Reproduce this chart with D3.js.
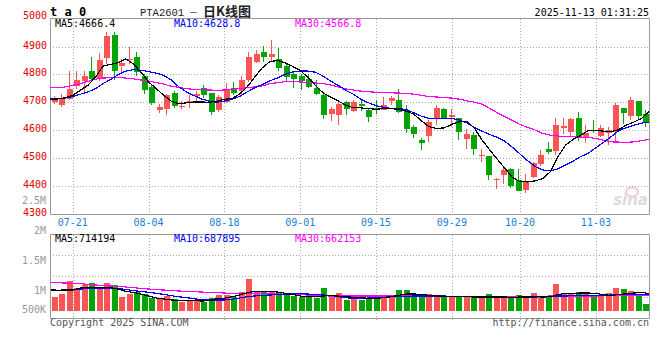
<!DOCTYPE html>
<html lang="zh">
<head>
<meta charset="UTF-8">
<title>PTA2601 日K线图</title>
<script src="https://d3js.org/d3.v7.min.js"></script>
<style>
  body { margin: 0; background: #fff; }
  svg { display: block; }
  text { font-family: "DejaVu Sans Mono", monospace; font-size: 10px; }
</style>
</head>
<body>
<svg width="660" height="360"></svg>
<script>
// trading days shown
const dates = [
  "07-16","07-17","07-18","07-21","07-22","07-23","07-24","07-25","07-28","07-29","07-30","07-31",
  "08-01","08-04","08-05","08-06","08-07","08-08","08-11","08-12","08-13","08-14","08-15","08-18",
  "08-19","08-20","08-21","08-22","08-25","08-26","08-27","08-28","08-29",
  "09-01","09-02","09-03","09-04","09-05","09-08","09-09","09-10","09-11","09-12","09-15","09-16",
  "09-17","09-18","09-19","09-22","09-23","09-24","09-25","09-26","09-29","09-30",
  "10-09","10-10","10-13","10-14","10-15","10-16","10-17","10-20","10-21","10-22","10-23","10-24",
  "10-27","10-28","10-29","10-30","10-31",
  "11-03","11-04","11-05","11-06","11-07","11-10","11-11","11-12"
];
const open = [4701,4690,4711,4758,4778,4814,4787,4858,4943,4830,4852,4864,4796,4755,4673,4676,
  4733,4683,4703,4724,4751,4732,4671,4701,4750,4739,4779,4846,4879,4862,4857,4832,
  4802,4793,4785,4752,4725,4658,4655,4700,4669,4693,4671,4680,4674,4705,4707,4671,
  4612,4564,4579,4642,4677,4648,4642,4568,4582,4506,4507,4423,4439,4459,4421,4386,
  4433,4479,4532,4526,4608,4594,4645,4576,4602,4580,4588,4594,4681,4651,4704,4659];
const high = [4721,4729,4811,4811,4811,4862,4877,4951,4953,4856,4900,4882,4801,4767,4693,4730,
  4739,4704,4727,4742,4761,4732,4727,4769,4771,4794,4882,4888,4903,4925,4894,4840,
  4814,4802,4800,4779,4731,4683,4701,4705,4707,4713,4677,4707,4719,4721,4749,4689,
  4618,4573,4636,4689,4681,4675,4645,4604,4594,4532,4507,4427,4469,4463,4459,4443,
  4487,4529,4556,4645,4645,4642,4665,4620,4636,4620,4612,4698,4681,4719,4704,4671];
const low = [4695,4683,4707,4749,4737,4776,4778,4838,4781,4808,4838,4795,4730,4690,4661,4655,
  4680,4675,4680,4696,4717,4655,4665,4698,4725,4725,4773,4840,4844,4846,4812,4773,
  4751,4743,4750,4727,4639,4633,4618,4655,4664,4669,4630,4659,4671,4689,4662,4590,
  4573,4529,4558,4620,4642,4612,4564,4532,4511,4487,4421,4389,4407,4392,4380,4374,
  4427,4471,4514,4511,4586,4579,4562,4555,4588,4574,4546,4558,4621,4638,4638,4612];
const close = [4713,4711,4746,4781,4796,4782,4850,4939,4812,4842,4857,4808,4743,4698,4682,4725,
  4686,4686,4706,4729,4726,4665,4718,4745,4732,4779,4862,4874,4862,4873,4823,4790,
  4782,4775,4755,4731,4655,4675,4693,4675,4701,4686,4648,4674,4689,4714,4665,4604,
  4586,4555,4629,4679,4642,4654,4594,4586,4532,4511,4439,4425,4457,4400,4382,4413,
  4483,4511,4520,4618,4614,4639,4570,4590,4596,4606,4602,4689,4662,4707,4650,4630];
const ma5 = [4710,4712,4716,4725,4743,4761,4790,4830,4836,4842,4856,4838,4808,4773,4749,4725,
  4704,4694,4698,4701,4701,4700,4704,4711,4713,4729,4755,4790,4824,4846,4850,4842,
  4829,4814,4790,4761,4734,4719,4705,4690,4680,4680,4677,4675,4677,4677,4675,4668,
  4657,4633,4612,4606,4608,4621,4630,4632,4606,4564,4529,4495,4463,4430,4415,4414,
  4418,4426,4451,4505,4546,4567,4582,4598,4600,4596,4594,4602,4618,4629,4642,4666];
const ma10 = [4713,4713,4715,4721,4729,4737,4749,4767,4782,4799,4812,4817,4815,4810,4805,4796,
  4780,4755,4737,4724,4712,4704,4700,4704,4711,4721,4737,4752,4764,4777,4787,4800,
  4809,4812,4812,4808,4794,4776,4761,4743,4729,4711,4698,4688,4682,4678,4677,4674,
  4662,4650,4642,4642,4642,4642,4636,4626,4609,4596,4584,4574,4560,4538,4514,4490,
  4469,4457,4454,4461,4475,4489,4505,4517,4537,4556,4576,4598,4609,4618,4625,4629];
const ma30 = [4752,4752,4755,4761,4767,4775,4783,4787,4788,4789,4787,4784,4780,4776,4771,4765,
  4758,4753,4749,4746,4745,4744,4743,4744,4746,4749,4752,4755,4759,4767,4770,4774,
  4774,4773,4771,4769,4767,4762,4755,4748,4744,4740,4738,4736,4734,4734,4733,4732,
  4729,4725,4720,4719,4717,4715,4711,4705,4700,4693,4678,4662,4648,4635,4620,4610,
  4600,4588,4582,4579,4576,4576,4575,4574,4570,4564,4558,4557,4556,4558,4562,4567];

const volume = [639000,704000,1019000,849000,922000,978000,842000,970000,922000,639000,704000,760000,
  704000,615000,590000,656000,576000,518000,559000,535000,503000,607000,680000,680000,
  624000,760000,1067000,777000,777000,784000,736000,704000,663000,624000,624000,607000,
  849000,639000,736000,559000,656000,559000,599000,583000,680000,656000,801000,801000,
  656000,639000,704000,656000,639000,639000,639000,656000,656000,639000,704000,624000,
  656000,624000,680000,624000,736000,656000,656000,953000,736000,721000,760000,704000,
  656000,656000,736000,857000,825000,777000,680000,469000];
const volMa5 = [801000,797000,801000,801000,849000,866000,857000,866000,857000,825000,768000,744000,
  704000,656000,607000,583000,559000,551000,551000,543000,535000,543000,590000,599000,
  639000,680000,736000,768000,768000,768000,752000,721000,696000,656000,639000,639000,
  656000,663000,656000,639000,624000,615000,599000,599000,615000,639000,672000,704000,
  704000,696000,672000,656000,647000,647000,639000,639000,631000,631000,631000,631000,
  631000,624000,631000,631000,639000,631000,639000,688000,721000,721000,728000,728000,
  721000,688000,672000,688000,712000,728000,744000,714194];
const volMa10 = [817000,793000,801000,801000,817000,849000,849000,849000,842000,833000,817000,784000,
  768000,744000,721000,696000,663000,639000,615000,590000,567000,559000,559000,559000,
  576000,607000,639000,656000,672000,680000,688000,696000,704000,712000,704000,688000,
  680000,672000,639000,615000,599000,599000,607000,615000,624000,639000,639000,647000,
  656000,656000,656000,656000,656000,647000,639000,639000,631000,631000,631000,624000,
  624000,624000,624000,624000,631000,639000,647000,656000,656000,663000,672000,672000,
  672000,672000,680000,696000,704000,704000,696000,687895];
const volMa30 = [986000,978000,970000,962000,954000,938000,922000,906000,898000,890000,874000,857000,
  841000,825000,809000,801000,785000,777000,769000,760000,752000,744000,736000,728000,
  720000,712000,712000,712000,712000,704000,704000,696000,696000,688000,680000,672000,
  664000,656000,656000,656000,656000,656000,656000,656000,656000,656000,656000,656000,
  656000,656000,656000,648000,648000,648000,648000,648000,648000,648000,648000,648000,
  648000,648000,648000,648000,648000,648000,656000,656000,656000,656000,656000,656000,
  656000,664000,664000,664000,664000,664000,664000,662153];

const dateTicks = ["07-21","08-04","08-18","09-01","09-15","09-29","10-20","11-03"];
const priceTicks = [4300,4400,4500,4600,4700,4800,4900,5000];
const volTicks = [2500000,2000000,1500000,1000000,500000];
const volTickText = ["2.5M","2M","1.5M","1M","500K"];

const RED = "#fa5555", GREEN = "#06a306", GRID = "#aaaaaa", FRAME = "#999999";
const L = 50, R = 649;
const svg = d3.select("svg");

const xBand = d3.scaleBand().domain(dates).range([L, R]);
const xPt = d3.scalePoint().domain(dates).range([L, R]);
const y = d3.scaleLinear().domain([4300, 5000]).range([213.7, 18.7]);
const yv = d3.scaleLinear().domain([300000, 2150000]).range([310.7, 234.3]);
const yvLabel = d3.scaleLinear().domain([0, 2500000]).range([353.7, 203.7]);
const cx = d => Math.round(xBand(d) + xBand.bandwidth() / 2) + 0.5;

// ---- price panel grid & frame
const g = svg.append("g");
g.selectAll(".hg").data(priceTicks.slice(1, -1)).join("line")
  .attr("x1", L).attr("x2", R).attr("y1", d => Math.round(y(d)) + 0.5).attr("y2", d => Math.round(y(d)) + 0.5)
  .attr("stroke", GRID).attr("stroke-dasharray", "1,2");
g.selectAll(".vg").data(dateTicks).join("line")
  .attr("x1", d => Math.round(xPt(d)) + 0.5).attr("x2", d => Math.round(xPt(d)) + 0.5)
  .attr("y1", 19).attr("y2", 214).attr("stroke", GRID).attr("stroke-dasharray", "1,2");
g.append("path").attr("d", `M${L + 0.5},${18.5}V${214.5}H${R + 0.5}V${18.5}Z`)
  .attr("fill", "none").attr("stroke", FRAME);

// price labels
g.selectAll(".pl").data(priceTicks).join("text")
  .attr("x", 47).attr("y", d => Math.min(y(d) + 2, Math.max(18.5, y(d) + 2 - (d === 5000 ? 2.2 : 0))))
  .attr("text-anchor", "end")
  .attr("fill", "#e00000").text(d => d);

// date labels
g.selectAll(".dl").data(dateTicks).join("text")
  .attr("x", d => xPt(d)).attr("y", 225.5).attr("text-anchor", "middle")
  .attr("fill", "#1a7fd4").text(d => d);

// watermark
const wm = g.append("g").attr("opacity", 0.35);
wm.append("ellipse").attr("cx", 632).attr("cy", 192).attr("rx", 6).attr("ry", 4.5)
  .attr("fill", "none").attr("stroke", "#e07070").attr("stroke-width", 2);
wm.append("text").attr("x", 648).attr("y", 205).attr("text-anchor", "end")
  .style("font-family", "DejaVu Sans").style("font-size", "15px").style("font-weight", "bold")
  .style("font-style", "italic").attr("fill", "#999").text("sina");

// ---- candles
const candles = g.append("g").selectAll("g").data(dates).join("g")
  .attr("fill", (d, i) => close[i] >= open[i] ? RED : GREEN)
  .attr("stroke", (d, i) => close[i] >= open[i] ? RED : GREEN);
candles.append("line")
  .attr("x1", cx).attr("x2", cx)
  .attr("y1", (d, i) => y(high[i])).attr("y2", (d, i) => y(low[i]))
  .attr("shape-rendering", "crispEdges");
candles.append("rect")
  .attr("x", d => Math.round(xBand(d) + xBand.bandwidth() / 2) - 2.5)
  .attr("width", 6)
  .attr("y", (d, i) => y(Math.max(open[i], close[i])))
  .attr("height", (d, i) => Math.max(1, Math.abs(y(open[i]) - y(close[i]))))
  .attr("stroke", "none").attr("shape-rendering", "crispEdges");

// MA lines
const priceLine = arr => d3.line().x((d, i) => xPt(dates[i])).y(d => y(d))(arr);
[[ma30, "#ff00ff"], [ma10, "#0000ff"], [ma5, "#000000"]].forEach(([arr, c]) => {
  g.append("path").attr("d", priceLine(arr)).attr("fill", "none")
    .attr("stroke", c).attr("stroke-width", 1.2).attr("shape-rendering", "crispEdges");
});

// legends
const leg = (gg, yy, items) => items.forEach(([t, c, x]) =>
  gg.append("text").attr("x", x).attr("y", yy).attr("fill", c).text(t));
leg(g, 27, [["MA5:4666.4", "#000", 55], ["MA10:4628.8", "#0000ff", 174], ["MA30:4566.8", "#ff00ff", 295]]);

// header
svg.append("text").attr("x", 50).attr("y", 15.5)
  .style("font-size", "12px").style("font-weight", "bold").text("t a 0");
const title = svg.append("text").attr("y", 15.5).attr("fill", "#222");
title.append("tspan").attr("x", 140).style("font-family", "Liberation Mono").style("font-size", "10.5px").text("PTA2601");
title.append("tspan").attr("x", 189).style("font-family", "Noto Sans CJK SC").style("font-size", "9px").text("－");
title.append("tspan").attr("x", 203).style("font-family", "Noto Sans CJK SC").style("font-size", "13px")
  .style("font-weight", "bold").text("日K线图");
svg.append("text").attr("x", 649).attr("y", 15.5).attr("text-anchor", "end").text("2025-11-13 01:31:25");

// ---- volume panel
const vg = svg.append("g");
[255.5, 276.5, 297.5].forEach(yy => vg.append("line").attr("x1", L).attr("x2", R)
  .attr("y1", yy).attr("y2", yy).attr("stroke", GRID).attr("stroke-dasharray", "1,2"));
vg.selectAll(".vv").data(dateTicks).join("line")
  .attr("x1", d => Math.round(xPt(d)) + 0.5).attr("x2", d => Math.round(xPt(d)) + 0.5)
  .attr("y1", 235).attr("y2", 320).attr("stroke", GRID).attr("stroke-dasharray", "1,2");

vg.selectAll(".vb").data(dates).join("rect")
  .attr("x", d => Math.round(xBand(d) + xBand.bandwidth() / 2) - 2.5)
  .attr("width", 6)
  .attr("y", (d, i) => yv(volume[i]))
  .attr("height", (d, i) => yv(300000) - yv(volume[i]))
  .attr("fill", (d, i) => close[i] >= open[i] ? RED : GREEN)
  .attr("shape-rendering", "crispEdges");

const volLine = arr => d3.line().x((d, i) => xPt(dates[i])).y(d => yv(d))(arr);
[[volMa30, "#ff00ff"], [volMa10, "#0000ff"], [volMa5, "#000000"]].forEach(([arr, c]) => {
  vg.append("path").attr("d", volLine(arr)).attr("fill", "none")
    .attr("stroke", c).attr("stroke-width", 1.2).attr("shape-rendering", "crispEdges");
});

vg.append("path").attr("d", `M${L + 0.5},234.5V318.5H${R + 0.5}V234.5Z`)
  .attr("fill", "none").attr("stroke", FRAME);

vg.selectAll(".vl").data(volTicks).join("text")
  .attr("x", 46).attr("y", d => Math.min(313.3, yvLabel(d))).attr("text-anchor", "end")
  .attr("fill", "#999").text((d, i) => volTickText[i]);

leg(vg, 241.5, [["MA5:714194", "#000", 55], ["MA10:687895", "#0000ff", 174], ["MA30:662153", "#ff00ff", 295]]);

// footer
svg.append("text").attr("x", 50).attr("y", 326).attr("fill", "#555").text("Copyright 2025 SINA.COM");
svg.append("text").attr("x", 649).attr("y", 326).attr("text-anchor", "end").attr("fill", "#555")
  .text("http://finance.sina.com.cn");
</script>
</body>
</html>
